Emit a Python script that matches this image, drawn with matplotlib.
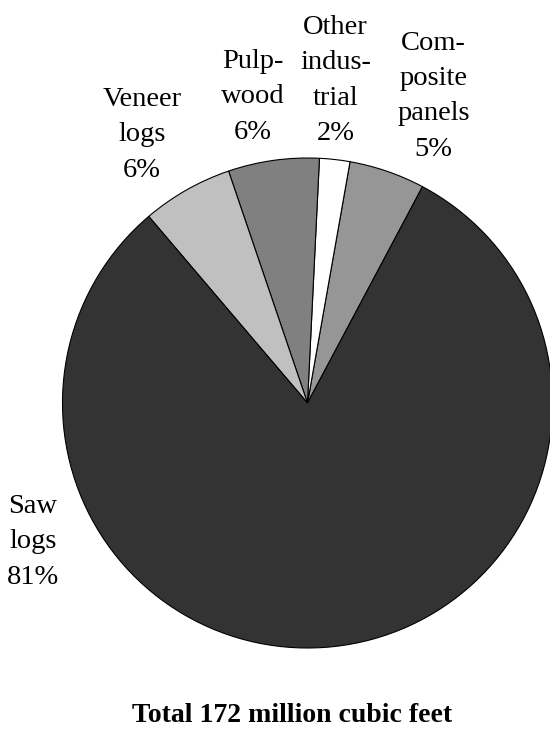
import matplotlib.pyplot as plt

# Slices listed counterclockwise, starting at the composite/saw-log edge
categories = ["Com-\nposite\npanels", "Other\nindus-\ntrial", "Pulp-\nwood",
              "Veneer\nlogs", "Saw\nlogs"]
shares = [5, 2, 6, 6, 81]
colors = ["#969696", "#ffffff", "#808080", "#c0c0c0", "#333333"]
total_label = "Total 172 million cubic feet"

# Label centres in pie-radius units (hand placed like the original)
label_pos = [(0.515, 1.252), (0.115, 1.316), (-0.225, 1.25), (-0.675, 1.095), (-1.12, -0.566)]

plt.rcParams["font.family"] = ["Liberation Serif", "DejaVu Serif"]

fig = plt.figure(figsize=(5.5, 7.3), dpi=100)
ax = fig.add_axes([0, 0, 1, 1])

R = 245.0
cx, cy = 307.5, 730 - 403
ax.pie(shares, colors=colors, startangle=62, counterclock=True,
       wedgeprops={"edgecolor": "black", "linewidth": 0.8})
ax.set_xlim(-cx / R, (550 - cx) / R)
ax.set_ylim(-cy / R, (730 - cy) / R)
ax.set_aspect("equal")
ax.axis("off")

for name, pct, (x, y) in zip(categories, shares, label_pos):
    ax.text(x, y, f"{name}\n{pct}%", ha="center", va="center",
            fontsize=20.5, linespacing=1.55)

ax.text((292 - cx) / R, (730 - 716 - cy) / R, total_label, ha="center",
        va="center", fontsize=20, fontweight="bold")

fig.savefig("out.png", dpi=100)
